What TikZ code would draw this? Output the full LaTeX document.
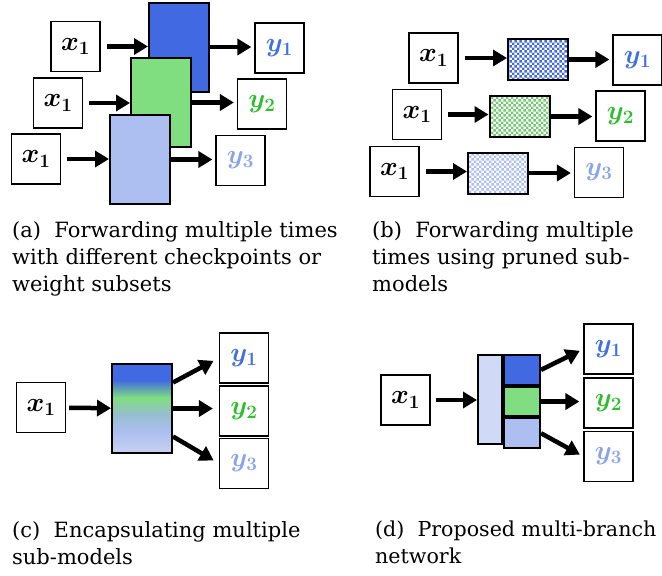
\RequirePackage{fix-cm}
\documentclass[tikz,border=0pt]{standalone}
\usepackage{fontspec}
\setmainfont{DejaVu Serif}
\usepackage{amsmath, bm}
\usetikzlibrary{positioning, arrows.meta, patterns.meta, calc}

\definecolor{BlueNet}{RGB}{65,105,225}
\definecolor{GreenNet}{RGB}{128,222,128}
\definecolor{LightNet}{RGB}{173,191,240}
\definecolor{PaleNet}{RGB}{208,218,246}
\definecolor{MixNet}{RGB}{150,190,205}
\definecolor{BottomNet}{RGB}{200,210,240}
\definecolor{BlueOut}{RGB}{66,112,226}
\definecolor{GreenOut}{RGB}{44,190,44}
\definecolor{LightOut}{RGB}{137,163,236}

\pgfdeclareverticalshading{encapshade}{100bp}{color(0bp)=(BottomNet); color(25bp)=(BottomNet); color(37bp)=(LightNet); color(47bp)=(MixNet); color(56bp)=(GreenNet); color(66bp)=(BlueNet); color(75bp)=(BlueNet); color(100bp)=(BlueNet)}

\tikzdeclarepattern{
  name=finechecker, type=uncolored,
  bottom left={(0pt,0pt)}, top right={(5.4pt,5.4pt)}, tile size={(5.4pt,5.4pt)},
  code={\fill (0pt,0pt) rectangle (2.7pt,2.7pt); \fill (2.7pt,2.7pt) rectangle (5.4pt,5.4pt);}
}

\newcommand{\xin}{$\bm{x_1}$}
\newcommand{\yout}[2]{\textcolor{#1}{$\bm{y_{#2}}$}}

\tikzstyle{arrow} = [line width=4.5pt, -{Triangle[length=14pt,width=16pt]}]
\tikzset{
  iobox/.style={draw, line width=1.2pt, fill=white, minimum width=49pt, minimum height=50pt, inner sep=0pt, font=\fontsize{27}{30}\selectfont},
  net/.style={draw, line width=2pt, minimum width=60pt, minimum height=89pt, inner sep=0pt},
  pruned/.style={draw, line width=2pt, minimum width=60pt, minimum height=41pt, inner sep=0pt, pattern=finechecker},
  branch/.style={draw, line width=2pt, minimum width=36pt, minimum height=29.7pt, inner sep=0pt},
  caption/.style={anchor=north west, align=left, inner sep=0pt, font=\fontsize{21}{27}\selectfont}
}

\begin{document}
\begin{tikzpicture}[x=1pt, y=-1pt]
  \useasboundingbox (0,0) rectangle (662,576);

  % (a) several checkpoints
  \node[iobox] (xa1) at (75.5,46.5) {\xin};
  \node[iobox] (xa2) at (58,103) {\xin};
  \node[iobox] (xa3) at (36,159) {\xin};
  \node[net, fill=BlueNet] (na1) at (179,47) {};
  \node[net, fill=GreenNet] (na2) at (161,102.5) {};
  \node[net, fill=LightNet] (na3) at (140,159.5) {};
  \node[iobox] (ya1) at (279.5,48) {\yout{BlueOut}{1}};
  \node[iobox] (ya2) at (262,104) {\yout{GreenOut}{2}};
  \node[iobox] (ya3) at (240.5,160.5) {\yout{LightOut}{3}};
  \foreach \i in {1,2,3} {
      \draw[arrow, shorten <=6pt] (xa\i) -- (xa\i -| na\i.west);
      \draw[arrow, shorten >=3pt] (na\i.east) -- (na\i.east -| ya\i.west);
    }

  % (b) pruned sub-models
  \node[iobox] (xb1) at (433.5,58) {\xin};
  \node[iobox] (xb2) at (417,114.5) {\xin};
  \node[iobox] (xb3) at (394.5,171.5) {\xin};
  \node[pruned, pattern color=BlueNet] (nb1) at (538,59.5) {};
  \node[pruned, pattern color=GreenNet!90!black] (nb2) at (519.5,116.5) {};
  \node[pruned, pattern color=LightNet] (nb3) at (498,173) {};
  \node[iobox] (yb1) at (637.5,60) {\yout{BlueOut}{1}};
  \node[iobox] (yb2) at (620.5,116) {\yout{GreenOut}{2}};
  \node[iobox] (yb3) at (599,172.5) {\yout{LightOut}{3}};
  \foreach \i in {1,2,3} {
      \draw[arrow, shorten <=6pt] (xb\i) -- (xb\i -| nb\i.west);
      \draw[arrow, shorten >=3pt] (nb\i.east) -- (nb\i.east -| yb\i.west);
    }

  % (c) one encapsulating model
  \node[iobox] (xc) at (41,407.5) {\xin};
  \node[net, shade, shading=encapshade] (enc) at (142,408.5) {};
  \node[iobox] (yc1) at (244,358) {\yout{BlueOut}{1}};
  \node[iobox] (yc2) at (244,411) {\yout{GreenOut}{2}};
  \node[iobox] (yc3) at (244,463.5) {\yout{LightOut}{3}};
  \draw[arrow, shorten <=3pt] (xc) -- (enc);
  \draw[arrow, shorten >=6pt] ([yshift=26pt]enc.east) -- (yc1.west);
  \draw[arrow, shorten >=6pt] (enc.east) -- (enc.east -| yc2.west);
  \draw[arrow, shorten >=6pt] ([yshift=-28pt]enc.east) -- (yc3.west);

  % (d) multi-branch network
  \node[iobox] (xd) at (405.5,400) {\xin};
  \node[net, fill=PaleNet, minimum width=24pt] (trunk) at (490,399.5) {};
  \node[branch, fill=BlueNet, anchor=north west] (bd1) at (trunk.north east) {};
  \node[branch, fill=GreenNet, below=0pt of bd1] (bd2) {};
  \node[branch, fill=LightNet, below=0pt of bd2] (bd3) {};
  \node[iobox] (yd1) at (608.5,349) {\yout{BlueOut}{1}};
  \node[iobox] (yd2) at (608.5,403) {\yout{GreenOut}{2}};
  \node[iobox] (yd3) at (608.5,456.5) {\yout{LightOut}{3}};
  \draw[arrow, shorten <=5pt] (xd) -- (xd -| trunk.west);
  \draw[arrow, shorten >=4pt] (bd1.east) -- (yd1.west);
  \draw[arrow, shorten >=4pt] (bd2.east) -- (bd2.east -| yd2.west);
  \draw[arrow, shorten >=4pt] (bd3.east) -- (yd3.west);

  % Captions
  \node[caption] (capa) at (12,221) {(a)\ \ Forwarding multiple times\\with different checkpoints or\\weight subsets};
  \node[caption] (capb) at (372,221) {(b)\ \ Forwarding multiple\\times using pruned sub-\\models};
  \node[caption] (capc) at (12,521) {(c)\ \ Encapsulating multiple\\sub-models};
  \node[caption, font=\fontsize{20.6}{27}\selectfont] (capd) at (375,521) {(d)\ \ Proposed multi-branch\\network};
\end{tikzpicture}
\end{document}
